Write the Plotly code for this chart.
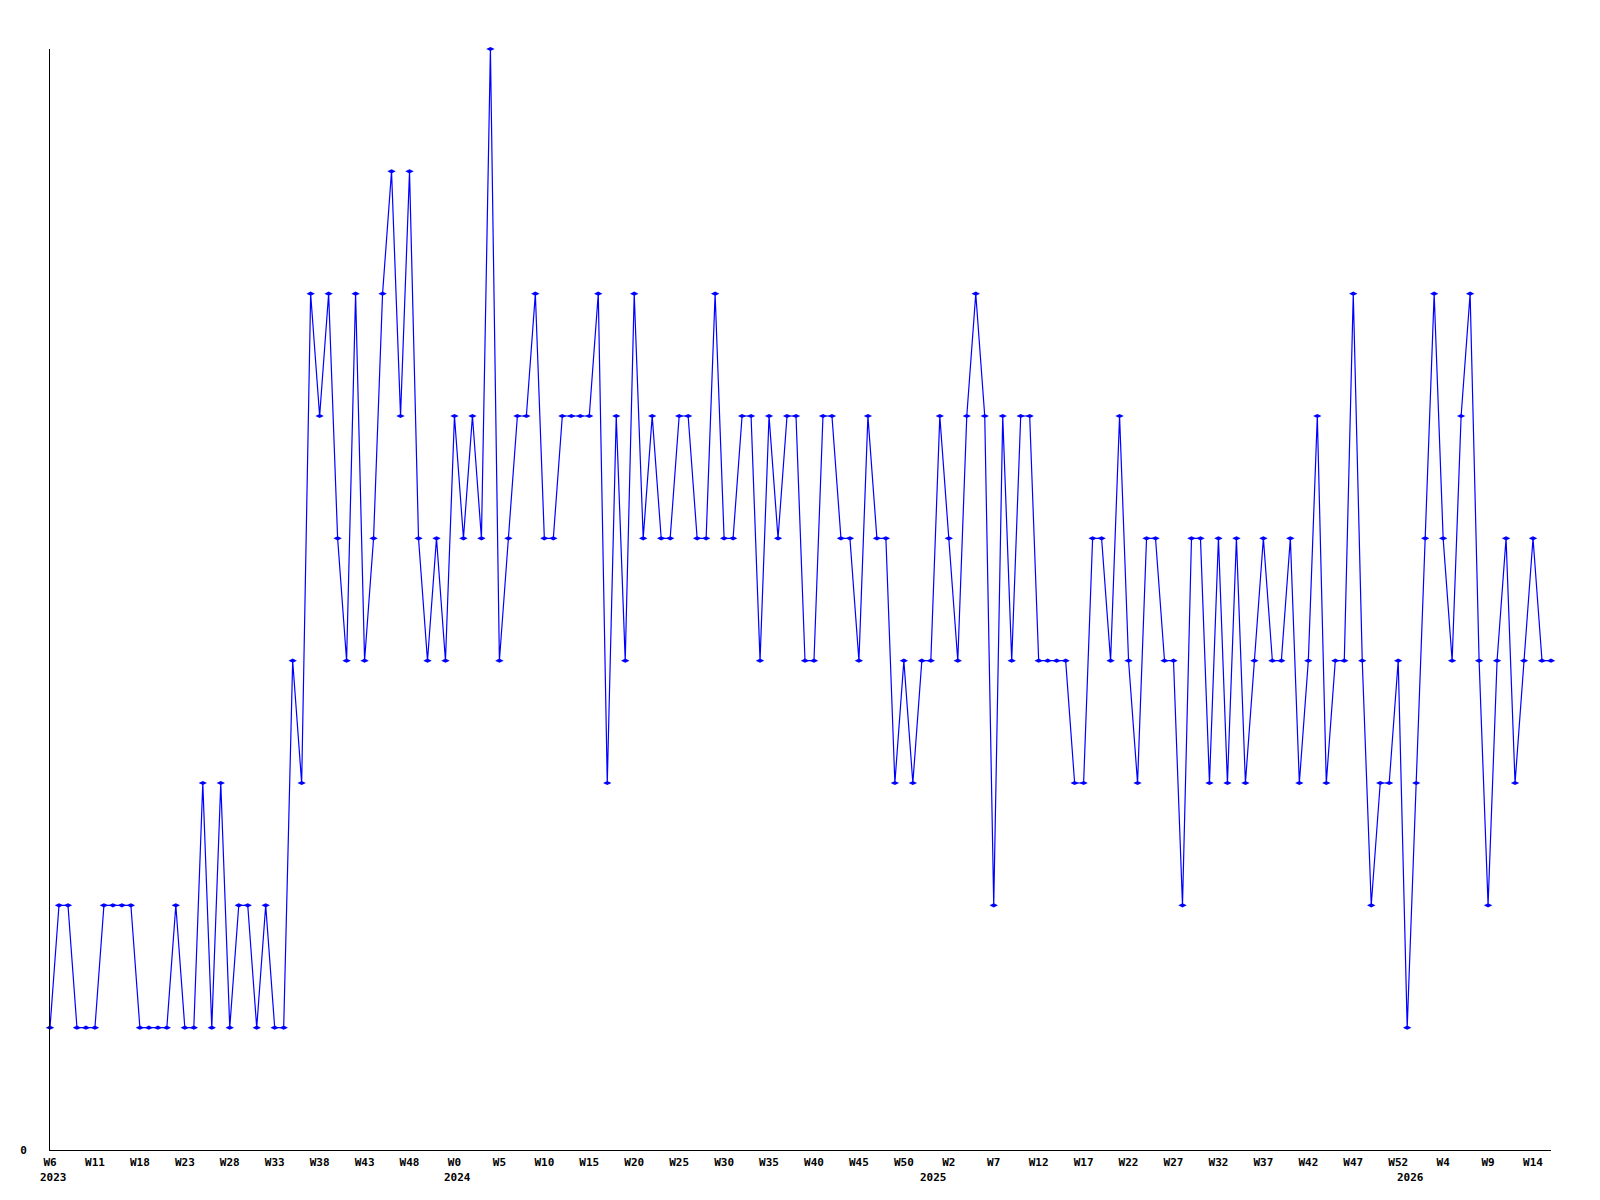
import plotly.graph_objects as go

# Weekly values (one per point, 168 points)
values = [
    1, 2, 2, 1, 1, 1, 2, 2, 2, 2, 1, 1, 1, 1, 2, 1, 1, 3, 1, 3,
    1, 2, 2, 1, 2, 1, 1, 4, 3, 7, 6, 7, 5, 4, 7, 4, 5, 7, 8, 6,
    8, 5, 4, 5, 4, 6, 5, 6, 5, 9, 4, 5, 6, 6, 7, 5, 5, 6, 6, 6,
    6, 7, 3, 6, 4, 7, 5, 6, 5, 5, 6, 6, 5, 5, 7, 5, 5, 6, 6, 4,
    6, 5, 6, 6, 4, 4, 6, 6, 5, 5, 4, 6, 5, 5, 3, 4, 3, 4, 4, 6,
    5, 4, 6, 7, 6, 2, 6, 4, 6, 6, 4, 4, 4, 4, 3, 3, 5, 5, 4, 6,
    4, 3, 5, 5, 4, 4, 2, 5, 5, 3, 5, 3, 5, 3, 4, 5, 4, 4, 5, 3,
    4, 6, 3, 4, 4, 7, 4, 2, 3, 3, 4, 1, 3, 5, 7, 5, 4, 6, 7, 4,
    2, 4, 5, 3, 4, 5, 4, 4,
]

# Tick labels, one every 5 points
tick_labels = [
    "W6", "W11", "W18", "W23", "W28", "W33", "W38", "W43", "W48",
    "W0", "W5", "W10", "W15", "W20", "W25", "W30", "W35", "W40", "W45", "W50",
    "W2", "W7", "W12", "W17", "W22", "W27", "W32", "W37", "W42", "W47", "W52",
    "W4", "W9", "W14",
]

# Year labels and the point index where each year starts
year_labels = ["2023", "2024", "2025", "2026"]
year_start_idx = [0, 45, 98, 151]

x = list(range(len(values)))
FONT = dict(family="DejaVu Sans Mono", size=11, color="black", weight="bold")

fig = go.Figure()
fig.add_trace(go.Scatter(
    x=x, y=values, mode="lines+markers",
    line=dict(color="#0000FF", width=1.2),
    marker=dict(symbol="diamond-wide", size=6, color="#0000FF"),
    cliponaxis=False, showlegend=False,
))

for lab, idx in zip(year_labels, year_start_idx):
    fig.add_annotation(
        x=idx, y=0, xref="x", yref="y", text=lab, showarrow=False,
        xanchor="center", yanchor="middle", yshift=-27, xshift=3, font=FONT,
    )

# The page body adds an 8px margin, so the figure is sized/placed to compensate.
fig.update_layout(
    width=1584, height=1184,
    margin=dict(l=42, r=41, t=41, b=42, autoexpand=False),
    paper_bgcolor="white", plot_bgcolor="white",
    xaxis=dict(
        range=[0, len(values) - 1],
        tickvals=list(range(0, len(values), 5))[:len(tick_labels)],
        ticktext=tick_labels,
        showgrid=False, zeroline=False,
        showline=True, linecolor="black", linewidth=1,
        ticks="", tickfont=FONT, ticklabelstandoff=2,
    ),
    yaxis=dict(
        range=[0, 9],
        tickvals=[0], ticktext=["0"],
        showgrid=False, zeroline=False,
        showline=True, linecolor="black", linewidth=1,
        ticks="", tickfont=FONT, ticklabelstandoff=20,
    ),
)

fig.write_html("out.html")
